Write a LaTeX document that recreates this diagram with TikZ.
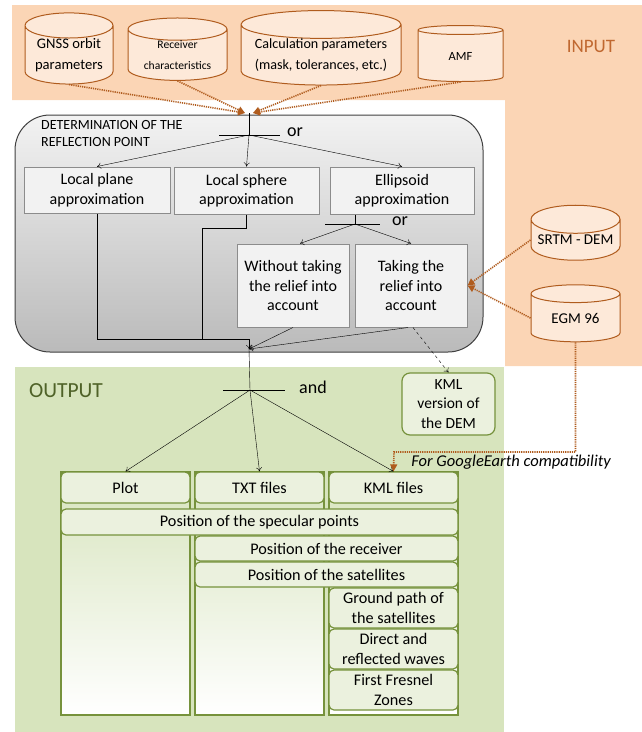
\documentclass[tikz,border=0pt]{standalone}
\usepackage{fontspec}
\setmainfont{Carlito}
\usetikzlibrary{arrows.meta, shapes.geometric, positioning}
\definecolor{inBand}{RGB}{251,213,181}
\definecolor{inCyl}{RGB}{253,233,217}
\definecolor{inBrown}{RGB}{176,92,30}
\definecolor{inText}{RGB}{192,104,48}
\definecolor{boxBorder}{RGB}{140,140,140}
\definecolor{boxFill}{RGB}{242,242,242}
\definecolor{outBand}{RGB}{215,228,189}
\definecolor{outBox}{RGB}{235,241,222}
\definecolor{outOlive}{RGB}{118,146,60}
\definecolor{outText}{RGB}{79,98,40}
\tikzstyle{fInput} = [cylinder, shape border rotate=90, draw=inBrown, fill=inCyl, line width=1pt, align=center, inner sep=0pt]
\tikzstyle{fApprox} = [rectangle, draw=boxBorder, fill=boxFill, line width=1pt, align=center, inner sep=0pt, font=\fontsize{16}{19.5}\selectfont]
\tikzstyle{fOutput} = [rectangle, rounded corners=5pt, draw=outOlive, fill=outBox, line width=1.2pt, align=center, inner sep=0pt, font=\fontsize{16.2}{19.5}\selectfont]
\tikzstyle{fColumn} = [draw=outOlive, line width=1.2pt, top color=outBand, bottom color=white]
\tikzstyle{fArrow} = [-{To[length=4pt,width=6pt]}]
\tikzstyle{fDotArrow} = [draw=inBrown, line width=1.6pt, dash pattern=on 1.2pt off 1pt, -{Triangle[length=7pt,width=7pt]}]

\begin{document}
\begin{tikzpicture}[x=1pt, y=-1pt]
    \useasboundingbox (0,0) rectangle (642,732);
    % backgrounds
    \fill[inBand] (12,5) -- (642,5) -- (642,366) -- (505,366) -- (505,100) -- (12,100) -- cycle;
    \fill[outBand] (15,367) rectangle (504,732);
    \draw[draw=black!75, line width=1pt, rounded corners=35pt, top color=black!5, bottom color=black!27] (15,115) rectangle (483,352);
    \draw[fColumn] (61,472) rectangle (190,715);
    \draw[fColumn] (195,472) rectangle (324,715);
    \draw[fColumn] (329,472) rectangle (458,715);

    % input
    \node (gnss) [fInput, aspect=0.37, minimum width=88pt, minimum height=57pt, font=\fontsize{14.6}{20.5}\selectfont] at (69,55) {GNSS orbit\\parameters};
    \node (receiver) [fInput, aspect=0.33, minimum width=99pt, minimum height=57pt, font=\fontsize{11.6}{20.5}\selectfont] at (177.5,55) {Receiver\\characteristics};
    \node (calcParam) [fInput, aspect=0.21, minimum width=160pt, minimum height=57pt, font=\fontsize{14.1}{20.5}\selectfont] at (321,55) {Calculation parameters\\(mask, tolerances, etc.)};
    \node (amf) [fInput, aspect=0.38, minimum width=85pt, minimum height=56pt, font=\fontsize{12.5}{20}\selectfont] at (460.5,56) {AMF};
    \node (inputLabel) [text=inText, font=\fontsize{19}{22}\selectfont] at (591,46) {INPUT};
    \node (srtm) [fInput, aspect=0.37, minimum width=89pt, minimum height=55pt, font=\fontsize{15}{20}\selectfont] at (575.5,240) {SRTM - DEM};
    \node (egm) [fInput, aspect=0.37, minimum width=89pt, minimum height=57pt, font=\fontsize{15}{20}\selectfont] at (575.5,318) {EGM 96};

    % reflection point
    \node (detTitle) [anchor=north west, align=left, inner sep=0pt, font=\fontsize{14}{17}\selectfont] at (41,120) {DETERMINATION OF THE\\REFLECTION POINT};
    \coordinate (inArrL) at (245,113);
    \coordinate (inArrR) at (253,113);
    \coordinate (orTop) at (249,113);
    \coordinate (orHub) at (249,135);
    \coordinate (orBarL) at (219,135);
    \coordinate (orBarR) at (280,135);
    \node (orOne) [font=\fontsize{18}{20}\selectfont] at (295,132) {or};
    \node (localPlane) [fApprox, minimum width=146pt, minimum height=46pt] at (97,190) {Local plane\\approximation};
    \node (localSphere) [fApprox, minimum width=145pt, minimum height=47pt] at (246.5,190.5) {Local sphere\\approximation};
    \node (ellipsoid) [fApprox, minimum width=144pt, minimum height=47pt] at (402,190.5) {Ellipsoid\\approximation};
    \coordinate (orTwoHub) at (355,224);
    \coordinate (orTwoL) at (325,224);
    \coordinate (orTwoR) at (380,224);
    \node (orTwo) [font=\fontsize{18}{20}\selectfont] at (400,221) {or};
    \node (withoutRelief) [fApprox, minimum width=112pt, minimum height=83pt] at (293,285.5) {Without taking\\the relief into\\account};
    \node (withRelief) [fApprox, minimum width=112pt, minimum height=83pt] at (411,285.5) {Taking the\\relief into\\account};
    \coordinate (sphereBend) at (202,228);
    \coordinate (joinLow) at (249,339);
    \coordinate (mergePt) at (249,349);

    % output
    \node (outputLabel) [text=outText, font=\fontsize{21.5}{24}\selectfont] at (66,391) {OUTPUT};
    \coordinate (andHub) at (250,390);
    \coordinate (andBarL) at (223,390);
    \coordinate (andBarR) at (285,390);
    \node (andLabel) [font=\fontsize{18}{20}\selectfont] at (313,387) {and};
    \node (kmlDem) [fOutput, rounded corners=8pt, minimum width=93pt, minimum height=62pt, font=\fontsize{15.5}{19.5}\selectfont] at (448.5,404) {KML\\version of\\the DEM};
    \node (plotHead) [fOutput, minimum width=129pt, minimum height=31pt] at (125.5,487.5) {Plot};
    \node (txtHead) [fOutput, minimum width=129pt, minimum height=31pt] at (259.5,487.5) {TXT files};
    \node (kmlHead) [fOutput, minimum width=129pt, minimum height=31pt] at (393.5,487.5) {KML files};
    \node (specPts) [fOutput, minimum width=397pt, minimum height=26pt] at (259.5,522) {Position of the specular points};
    \node (recvPos) [fOutput, minimum width=263pt, minimum height=25pt] at (326.5,548.5) {Position of the receiver};
    \node (satPos) [fOutput, minimum width=263pt, minimum height=25pt] at (326.5,574.5) {Position of the satellites};
    \node (groundPath) [fOutput, minimum width=129pt, minimum height=40pt] at (393.5,608) {Ground path of\\the satellites};
    \node (directWaves) [fOutput, minimum width=129pt, minimum height=40pt] at (393.5,649) {Direct and\\reflected waves};
    \node (fresnel) [fOutput, minimum width=129pt, minimum height=40pt] at (393.5,690) {First Fresnel\\Zones};
    \coordinate (geBend) at (394,452);
    \node (geNote) [font=\fontsize{16.5}{19}\selectfont\itshape] at (511,462) {For GoogleEarth compatibility};

    % connectors
    \draw [fDotArrow] (gnss.south) -- (inArrL);
    \draw [fDotArrow] (receiver.south) -- (inArrL);
    \draw [fDotArrow] (calcParam.south) -- (inArrR);
    \draw [fDotArrow] (amf.south) -- (inArrR);
    \draw (orTop) -- (orHub);
    \draw (orBarL) -- (orBarR);
    \draw [fArrow] (orHub) -- (localPlane.north);
    \draw [fArrow] (orHub) -- (localSphere.north);
    \draw [fArrow] (orHub) -- (ellipsoid.north);
    \draw (ellipsoid.south -| orTwoHub) -- (orTwoHub);
    \draw (orTwoL) -- (orTwoR);
    \draw [fArrow] (orTwoHub) -- ([xshift=7pt]withoutRelief.north);
    \draw [fArrow] (orTwoHub) -- (withRelief.north);
    \draw [fDotArrow] (srtm.west) -- (withRelief.east);
    \draw [fDotArrow] (egm.west) -- (withRelief.east);
    \draw (localPlane.south) |- (joinLow);
    \draw (localSphere.south) |- (sphereBend) -- (sphereBend |- joinLow);
    \draw [fArrow] (joinLow) -- (mergePt);
    \draw [fArrow] (withoutRelief.south) -- (mergePt);
    \draw [fArrow] ([xshift=-3pt]withRelief.south) -- (mergePt);
    \draw [fArrow, dashed] ([xshift=2pt]withRelief.south) -- (kmlDem.north);
    \draw (mergePt) -- (andHub);
    \draw (andBarL) -- (andBarR);
    \draw [fArrow] (andHub) -- (plotHead.north);
    \draw [fArrow] (andHub) -- (txtHead.north);
    \draw [fArrow] (andHub) -- (kmlHead.north);
    \draw [fDotArrow] (egm.south) |- (geBend) -- (kmlHead.north);
\end{tikzpicture}
\end{document}
